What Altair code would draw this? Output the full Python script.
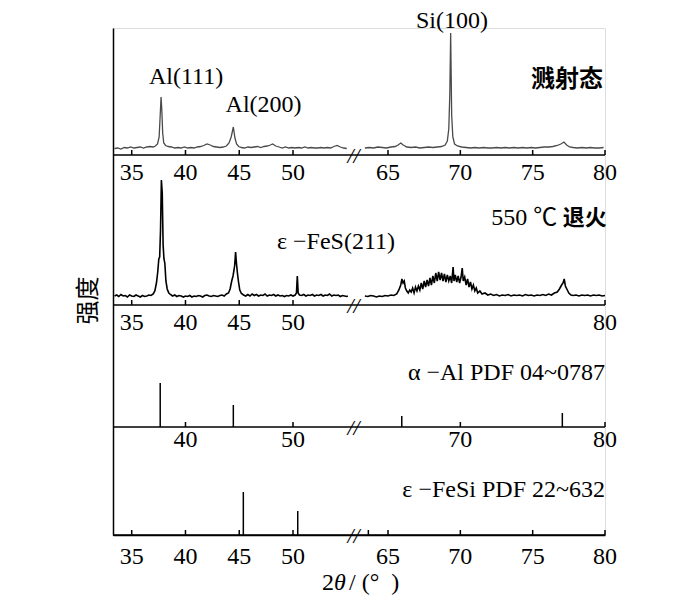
import altair as alt
import pandas as pd

# ---------------- data (2θ in degrees, intensity in a.u.) ----------------
# sputtered film (溅射态), low-angle and high-angle segments
SPUT_LOW = [(33.4,6.5),(33.7,7),(34.0,6),(34.3,7.5),(34.6,7),(34.9,8),(35.2,7),(35.5,7.5),(35.8,8),
            (36.1,7),(36.4,8),(36.7,8.5),(37.0,8),(37.2,9),(37.4,11),(37.55,18),(37.65,40),(37.73,58),
            (37.8,45),(37.88,22),(37.98,12),(38.15,9.5),(38.4,8.5),(38.7,8),(39.0,7),(39.3,7.5),(39.6,7),
            (39.9,8),(40.2,7),(40.5,7.5),(40.8,7),(41.1,8),(41.4,8.5),(41.7,9.5),(42.0,11),(42.3,10),
            (42.6,8.5),(42.9,8),(43.2,7.5),(43.5,8),(43.8,9),(44.05,12),(44.25,18),(44.45,28),(44.6,17),
            (44.75,11),(44.95,8.5),(45.2,7.5),(45.5,7),(45.8,8),(46.1,7.5),(46.4,8),(46.7,8.5),(47.0,7.5),
            (47.3,8.5),(47.6,9),(47.9,10),(48.1,11),(48.4,9),(48.7,8),(49.0,7),(49.3,8),(49.6,7),(49.9,7.5),
            (50.2,7),(50.5,7.5),(50.8,7),(51.1,8),(51.4,7),(51.7,7.5),(52.0,7),(52.3,7),(52.6,7.5),(52.9,7),
            (53.2,7.5),(53.5,7),(53.8,8.5),(54.1,9.5),(54.4,8),(54.7,7),(55.0,6.5)]
SPUT_HIGH = [(63.4,7),(63.7,7.5),(64.0,7),(64.3,8),(64.6,7.5),(64.9,7),(65.2,8),(65.5,8.5),(65.7,10),
             (65.88,12),(66.05,10),(66.3,8),(66.6,7.5),(66.9,8),(67.2,7),(67.5,7.5),(67.8,8),(68.1,7.5),
             (68.4,8),(68.7,8.5),(68.95,10),(69.1,14),(69.2,26),(69.27,60),(69.33,122),(69.4,40),(69.48,18),
             (69.6,11),(69.8,9),(70.1,8),(70.4,7.5),(70.7,7),(71.0,7.5),(71.3,7),(71.6,7.5),(71.9,7),(72.2,7),
             (72.5,7.5),(72.8,7),(73.1,7.5),(73.4,7),(73.7,7.5),(74.0,7),(74.3,7.5),(74.6,7),(74.9,7.5),
             (75.2,7),(75.5,7.5),(75.8,8),(76.1,8),(76.4,8.5),(76.7,9.5),(76.95,11),(77.16,13),(77.35,10),
             (77.55,8),(77.8,7.5),(78.1,7),(78.4,7.5),(78.7,7),(79.0,7.5),(79.3,7),(79.6,7),(79.9,7.5)]

# annealed at 550 ℃ (550 ℃ 退火)
ANN_LOW = [(33.4,9),(33.6,10),(33.8,8.5),(34.0,10.5),(34.2,9),(34.4,9.5),(34.6,8),(34.8,10),(35.0,9),
           (35.2,8.5),(35.4,10),(35.6,9),(35.8,8),(36.0,9.5),(36.2,8.5),(36.4,9),(36.6,10),(36.8,9.5),
           (37.0,11),(37.15,14),(37.3,22),(37.42,33),(37.52,46),(37.6,48),(37.68,75),(37.76,125),(37.84,112),
           (37.92,60),(38.0,46),(38.08,42),(38.18,24),(38.3,16),(38.45,12),(38.6,10.5),(38.8,9),(39.0,10),
           (39.2,8.5),(39.4,9.5),(39.6,9),(39.8,8),(40.0,9),(40.2,8.5),(40.4,9.5),(40.6,8),(40.8,9),
           (41.0,8.5),(41.2,9.5),(41.4,9),(41.6,8),(41.8,9.5),(42.0,10),(42.2,9),(42.4,8.5),(42.6,9.5),
           (42.8,9),(43.0,8.5),(43.2,9.5),(43.4,10),(43.6,9),(43.8,11),(44.0,12),(44.15,16),(44.3,24),
           (44.42,29),(44.5,34),(44.58,40),(44.66,53),(44.74,42),(44.82,33),(44.92,24),(45.05,15),
           (45.2,11.5),(45.4,10),(45.6,9),(45.8,10.5),(46.0,9),(46.2,11),(46.4,9.5),(46.6,10.5),(46.8,9),
           (47.0,10),(47.2,9.5),(47.4,11),(47.6,9),(47.8,10),(48.0,9.5),(48.2,10.5),(48.4,9),(48.6,10),
           (48.8,9),(49.0,9.5),(49.2,8.5),(49.4,9.5),(49.6,9),(49.8,10),(50.0,9),(50.2,10),(50.32,12),
           (50.4,29),(50.48,12),(50.6,10),(50.8,9.5),(51.0,10.5),(51.2,9),(51.4,10),(51.6,9.5),(51.8,10.5),
           (52.0,9),(52.2,10),(52.4,9.5),(52.6,10.5),(52.8,9),(53.0,10),(53.2,9.5),(53.4,11),(53.6,9),
           (53.8,10),(54.0,9.5),(54.2,10),(54.4,8.5),(54.6,9.5),(54.8,9),(55.0,8.5),(55.1,9)]
ANN_HIGH = [(63.4,9),(63.6,8.5),(63.8,9.5),(64.0,9),(64.2,8),(64.4,9),(64.6,8.5),(64.8,9.5),(65.0,9),
            (65.2,10),(65.4,9.5),(65.6,11),(65.75,15),(65.88,20),(65.96,26),(66.04,22),(66.12,24),(66.2,17),
            (66.3,14),(66.4,12),(66.5,15),(66.6,13),(66.7,17),(66.8,12),(66.9,18),(67.0,14),(67.1,19),
            (67.2,15),(67.3,22),(67.4,16),(67.5,24),(67.6,18),(67.7,25),(67.8,19),(67.9,27),(68.0,20),
            (68.1,29),(68.2,22),(68.3,32),(68.4,24),(68.5,33),(68.6,25),(68.7,32),(68.8,24),(68.9,31),
            (69.0,23),(69.1,30),(69.2,24),(69.3,29),(69.4,22),(69.5,38),(69.56,24),(69.65,30),(69.75,23),
            (69.85,29),(69.95,22),(70.05,28),(70.13,37),(70.2,24),(70.3,28),(70.4,20),(70.5,26),(70.6,18),
            (70.7,23),(70.8,16),(70.9,20),(71.0,14),(71.1,17),(71.2,12),(71.35,14),(71.5,11),(71.7,12),
            (71.9,10),(72.1,11),(72.3,9.5),(72.5,10.5),(72.7,9),(72.9,10),(73.1,9.5),(73.3,10.5),(73.5,9),
            (73.7,10),(73.9,9.5),(74.1,10),(74.3,9),(74.5,10.5),(74.7,9.5),(74.9,10),(75.1,9),(75.3,10),
            (75.5,9.5),(75.7,10.5),(75.9,9.5),(76.1,11),(76.3,10),(76.5,12),(76.7,13),(76.85,16),(77.0,20),
            (77.1,22),(77.18,26),(77.26,19),(77.36,16),(77.5,12),(77.65,10),(77.8,9.5),(78.0,10),(78.2,9),
            (78.4,10),(78.6,9.5),(78.8,10),(79.0,9),(79.2,10),(79.4,9.5),(79.6,10),(79.8,9),(80.0,9.5)]

# reference patterns (stick lines)
AL_PDF_2T = [37.65, 44.45, 65.95, 77.05]
AL_PDF_I = [44, 22, 11, 14]
FESI_PDF_2T = [45.38, 50.44, 63.64]
FESI_PDF_I = [43, 24, 5]

# tick values of each panel's 2θ axis
TICKS = {1: [35, 40, 45, 50, 65, 70, 75, 80],
         2: [35, 40, 45, 50, 80],
         3: [40, 50, 70, 80],
         4: [35, 40, 45, 50, 65, 70, 75, 80]}

# labels: (text, 2θ, height)
LABELS_CENTER = [("Al(111)", 40.05, 458), ("Al(200)", 47.26, 430), ("Si(100)", 69.42, 514),
                 ("ε −FeS(211)", 54.0, 293)]
LABELS_RIGHT = [("550 ℃", 76.7, 317), ("α −Al PDF 04~0787", 80.0, 162),
                ("ε −FeSi PDF 22~632", 80.0, 45)]
LABELS_BOLD = [("溅射态", 79.86, 455, 24), ("退火", 80.13, 317, 22)]

# x-axis title pieces: (text, dx from anchor, align, style)
XTITLE = [("2", -19.6, "right", "normal"), ("θ", -19.6, "left", "italic"),
          ("/ (°\u2002)", -4.6, "left", "normal")]
YTITLE = "强度"

# ---------------- layout ----------------
BASE = {1: 380, 2: 230, 3: 108, 4: 0}        # vertical offset of each panel
LABEL_GAP = {1: 18, 2: 18, 3: 13, 4: 21.5}   # tick label distance below panel axis
TICK_LEN = 5
X_MIN, X_MAX = 33.26, 80.0
BREAK_X = 57.5
XTITLE_Y = -48

SERIF = "Liberation Serif, Noto Sans CJK SC"
FS = 24

XS = alt.Scale(domain=[X_MIN, 55.3, 63.27, X_MAX], range=[0, 237, 250, 492], nice=False, zero=False)
YS = alt.Scale(domain=[0, 507], nice=False, zero=False)
XAX = alt.Axis(title=None, ticks=False, labels=False, grid=False, domain=True,
               domainColor="black", domainWidth=1.5)
YAX = alt.Axis(title=YTITLE, ticks=False, labels=False, grid=False, domain=True,
               domainColor="black", domainWidth=1.5, titleFont="Noto Sans CJK SC",
               titleFontSize=FS, titleFontWeight="normal", titleColor="black",
               titleX=-25, titleY=272, titleBaseline="middle", titleAngle=270)


def X(f="x"):
    return alt.X(f"{f}:Q", scale=XS, axis=XAX)


def Y(f="y"):
    return alt.Y(f"{f}:Q", scale=YS, axis=YAX)


def curve(points, panel, seg):
    return pd.DataFrame({"x": [p[0] for p in points],
                         "y": [BASE[panel] + p[1] for p in points],
                         "seg": seg})


sput = pd.concat([curve(SPUT_LOW, 1, "a"), curve(SPUT_HIGH, 1, "b")])
ann = pd.concat([curve(ANN_LOW, 2, "a"), curve(ANN_HIGH, 2, "b")])

sticks = pd.concat([
    pd.DataFrame({"x": AL_PDF_2T, "y": BASE[3], "y2": [BASE[3] + v for v in AL_PDF_I]}),
    pd.DataFrame({"x": FESI_PDF_2T, "y": BASE[4], "y2": [BASE[4] + v for v in FESI_PDF_I]}),
])

tick_rows, lab_rows = [], []
for p, vals in TICKS.items():
    for v in vals:
        tick_rows.append({"x": v, "y": BASE[p], "y2": BASE[p] + TICK_LEN})
        lab_rows.append({"x": v, "y": BASE[p] - LABEL_GAP[p], "text": str(v)})
ticks = pd.DataFrame(tick_rows)
ticklabels = pd.DataFrame(lab_rows)

axes_df = pd.DataFrame({"x": X_MIN, "x2": X_MAX, "y": [BASE[p] for p in (1, 2, 3, 4)]})
breaks_df = pd.DataFrame({"x": BREAK_X, "y": [BASE[p] for p in (1, 2, 3, 4)], "text": "//"})


def lab_df(rows):
    return pd.DataFrame({"text": [r[0] for r in rows], "x": [r[1] for r in rows],
                         "y": [r[2] for r in rows]})


axis_lines = alt.Chart(axes_df).mark_rule(color="black", strokeWidth=1.5).encode(
    x=X(), x2=alt.X2("x2:Q"), y=Y())

tick_marks = alt.Chart(ticks).mark_rule(color="black", strokeWidth=1.5).encode(
    x=X(), y=Y(), y2=alt.Y2("y2:Q"))

tick_text = alt.Chart(ticklabels).mark_text(
    font=SERIF, fontSize=FS, color="black", align="center", baseline="middle").encode(
    x=X(), y=Y(), text="text:N")

break_marks = alt.Chart(breaks_df).mark_text(
    font=SERIF, fontSize=22, fontStyle="italic", color="black", align="center",
    baseline="middle", dy=1).encode(x=X(), y=Y(), text="text:N")

sput_line = alt.Chart(sput).mark_line(color="#4a4a4a", strokeWidth=1.3).encode(
    x=X(), y=Y(), detail="seg:N")

ann_line = alt.Chart(ann).mark_line(color="black", strokeWidth=1.6).encode(
    x=X(), y=Y(), detail="seg:N")

stick_marks = alt.Chart(sticks).mark_rule(color="black", strokeWidth=1.5).encode(
    x=X(), y=Y(), y2=alt.Y2("y2:Q"))


def text_layer(rows, align, weight="normal", size=FS):
    return alt.Chart(lab_df(rows)).mark_text(
        font=SERIF, fontSize=size, fontWeight=weight, color="black", align=align,
        baseline="middle").encode(x=X(), y=Y(), text="text:N")


bold_layers = [text_layer([r[:3]], "right", "bold", r[3]) for r in LABELS_BOLD]

title_layers = [
    alt.Chart(pd.DataFrame({"x": [BREAK_X], "y": [XTITLE_Y], "text": [t]})).mark_text(
        font=SERIF, fontSize=FS, fontStyle=st, color="black", align=al, baseline="middle",
        dx=dx).encode(x=X(), y=Y(), text="text:N")
    for t, dx, al, st in XTITLE
]

chart = alt.layer(
    axis_lines, tick_marks, stick_marks, sput_line, ann_line, tick_text, break_marks,
    text_layer(LABELS_CENTER, "center"),
    text_layer(LABELS_RIGHT, "right"),
    *bold_layers,
    *title_layers,
).properties(
    width=492, height=507,
    autosize=alt.AutoSizeParams(type="none"),
    padding={"left": 105, "top": 20, "right": 87, "bottom": 60},
).configure_view(stroke=None).configure(background="white")

chart.save("out.html", embed_options={"renderer": "svg", "actions": False})
